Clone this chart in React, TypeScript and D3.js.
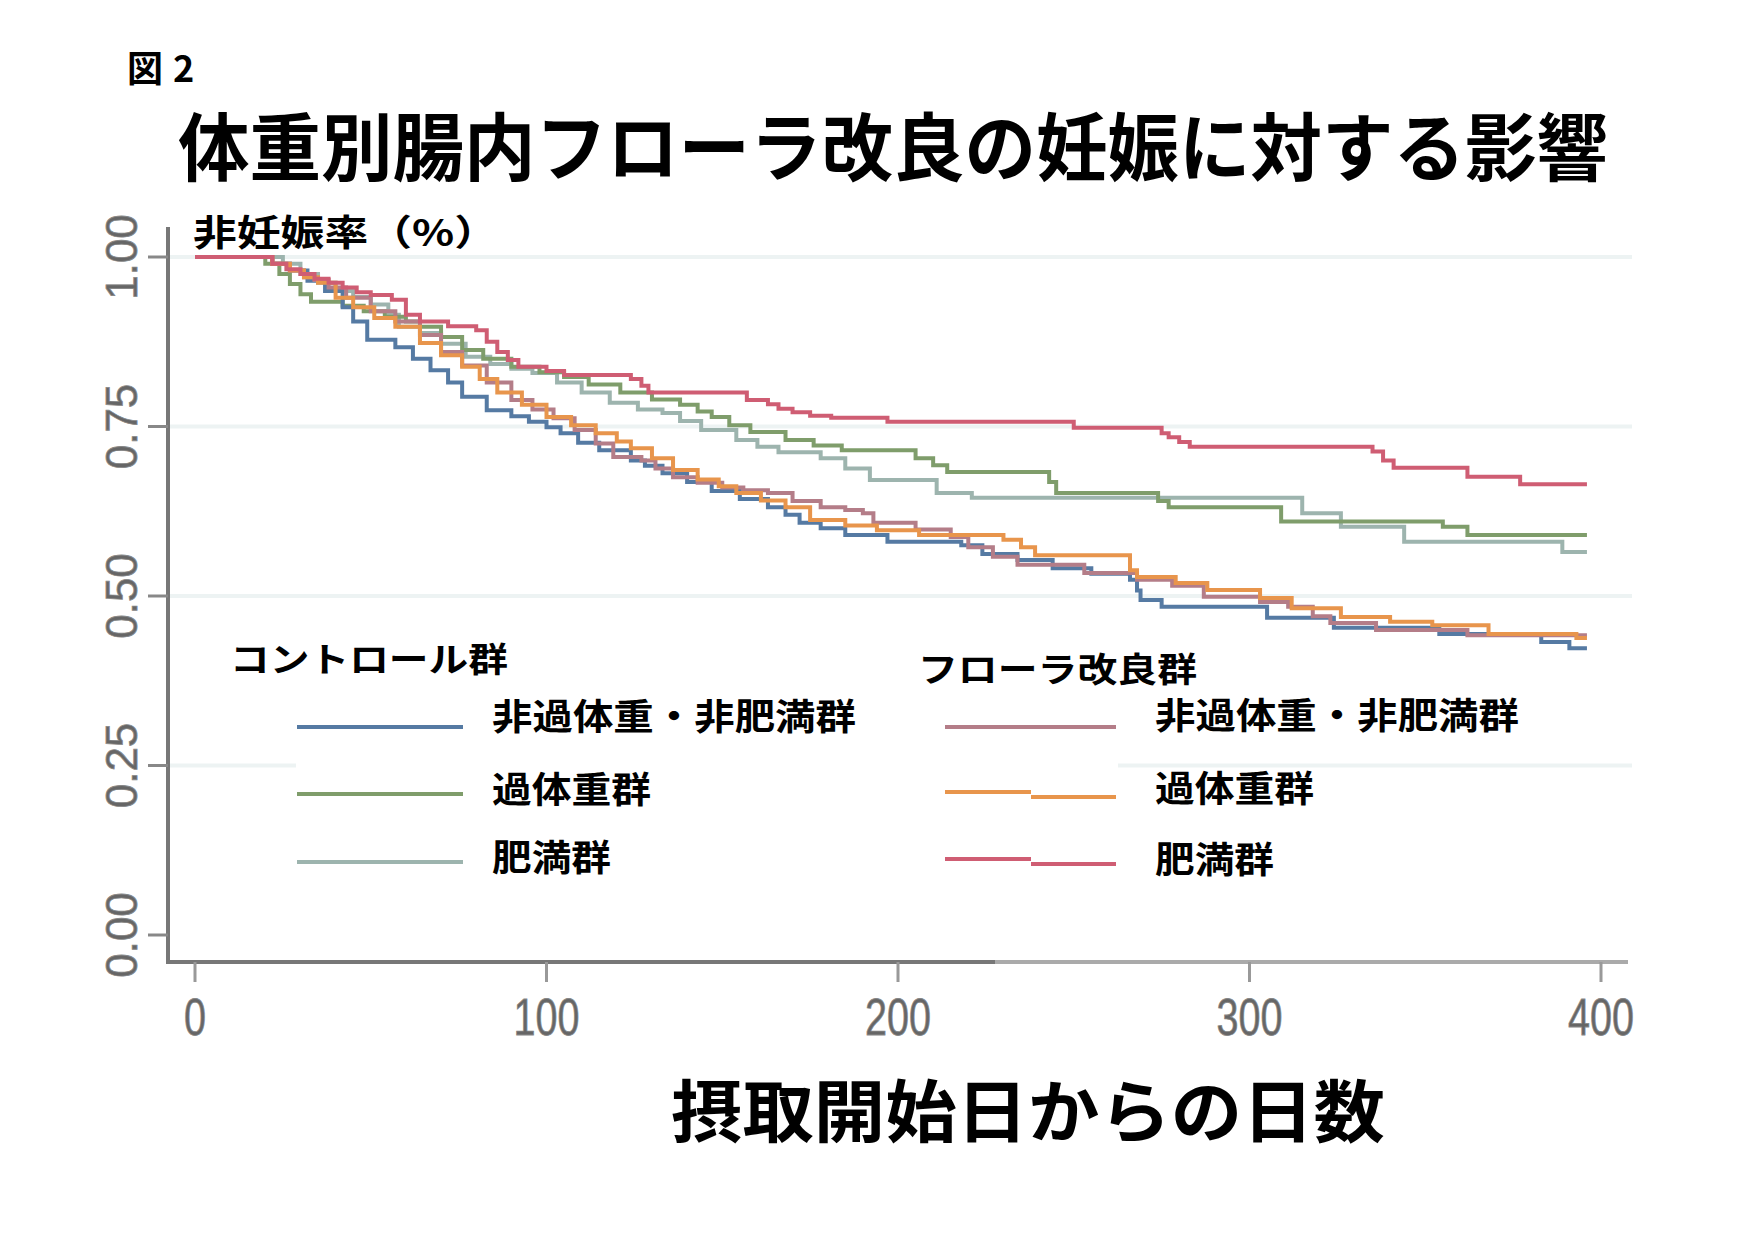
import React from "react";
import * as d3 from "d3";

// Kaplan-Meier style curves: [day, non-pregnancy rate]
const ctrlNormal = [
  [0, 1], [22, 0.99], [27, 0.98], [32, 0.965], [37, 0.95], [42, 0.926], [45, 0.905], [49, 0.878],
  [57, 0.867], [62, 0.85], [67, 0.833], [72, 0.815], [76, 0.794], [83, 0.774], [90, 0.765],
  [95, 0.757], [100, 0.749], [104, 0.74], [109, 0.726], [115, 0.715], [124, 0.7], [128, 0.692],
  [133, 0.681], [140, 0.668], [147, 0.655], [155, 0.643], [163, 0.631], [168, 0.62], [172, 0.608],
  [178, 0.6], [185, 0.59], [197, 0.58], [218, 0.575], [224, 0.562], [234, 0.553], [244, 0.541],
  [255, 0.533], [266, 0.524], [268, 0.508], [269, 0.494], [275, 0.484], [305, 0.468], [324, 0.453],
  [354, 0.444], [383, 0.432], [391, 0.423], [396, 0.423],
];
const ctrlOver = [
  [0, 1], [20, 0.99], [24, 0.975], [27, 0.96], [30, 0.945], [33, 0.934], [42, 0.928], [48, 0.92],
  [54, 0.912], [60, 0.905], [64, 0.897], [70, 0.882], [76, 0.863], [82, 0.85], [90, 0.838],
  [98, 0.83], [105, 0.823], [112, 0.812], [121, 0.8], [130, 0.79], [138, 0.782], [143, 0.772],
  [147, 0.764], [152, 0.752], [158, 0.742], [168, 0.73], [176, 0.722], [184, 0.715], [205, 0.703],
  [210, 0.693], [214, 0.683], [243, 0.668], [245, 0.652], [274, 0.64], [277, 0.631], [309, 0.61],
  [355, 0.602], [362, 0.59], [396, 0.59],
];
const ctrlObese = [
  [0, 1], [25, 0.99], [30, 0.975], [35, 0.962], [40, 0.95], [45, 0.941], [50, 0.93], [55, 0.915],
  [58, 0.897], [64, 0.888], [70, 0.872], [77, 0.853], [84, 0.842], [90, 0.835], [96, 0.829],
  [103, 0.815], [110, 0.8], [118, 0.785], [126, 0.775], [133, 0.77], [138, 0.758], [144, 0.745],
  [154, 0.73], [160, 0.72], [166, 0.712], [178, 0.703], [185, 0.688], [192, 0.671], [211, 0.652],
  [221, 0.645], [315, 0.622], [326, 0.602], [344, 0.58], [389, 0.565], [396, 0.565],
];
const floraNormal = [
  [0, 1], [22, 0.99], [27, 0.98], [31, 0.97], [34, 0.966], [38, 0.955], [43, 0.94], [50, 0.92],
  [57, 0.905], [64, 0.885], [70, 0.86], [76, 0.84], [83, 0.815], [90, 0.789], [96, 0.775],
  [102, 0.762], [108, 0.745], [114, 0.725], [119, 0.705], [127, 0.7], [131, 0.688], [136, 0.675],
  [143, 0.667], [150, 0.66], [156, 0.656], [163, 0.652], [170, 0.64], [178, 0.631], [185, 0.627],
  [190, 0.622], [193, 0.608], [205, 0.598], [215, 0.587], [220, 0.572], [227, 0.558], [234, 0.546],
  [253, 0.534], [268, 0.524], [278, 0.515], [287, 0.499], [303, 0.491], [311, 0.484], [318, 0.47],
  [323, 0.46], [336, 0.45], [362, 0.442], [396, 0.442],
];
const floraOver = [
  [0, 1], [22, 0.99], [27, 0.98], [31, 0.97], [35, 0.962], [40, 0.94], [45, 0.926], [51, 0.91],
  [57, 0.897], [64, 0.873], [70, 0.855], [76, 0.838], [81, 0.82], [86, 0.8], [93, 0.782],
  [100, 0.764], [107, 0.752], [114, 0.74], [120, 0.728], [124, 0.718], [130, 0.703], [136, 0.686],
  [143, 0.672], [149, 0.662], [154, 0.652], [161, 0.641], [168, 0.631], [175, 0.612], [185, 0.604],
  [194, 0.597], [206, 0.59], [230, 0.583], [235, 0.572], [239, 0.56], [266, 0.538], [268, 0.528],
  [279, 0.519], [288, 0.509], [303, 0.497], [312, 0.482], [326, 0.469], [340, 0.462], [352, 0.457],
  [368, 0.444], [393, 0.438], [396, 0.438],
];
const floraObese = [
  [0, 1], [22, 0.99], [26, 0.982], [30, 0.975], [34, 0.968], [38, 0.962], [42, 0.955], [46, 0.948],
  [50, 0.944], [56, 0.937], [60, 0.915], [64, 0.905], [72, 0.898], [80, 0.892], [83, 0.875],
  [86, 0.86], [89, 0.848], [92, 0.838], [100, 0.832], [105, 0.826], [124, 0.82], [127, 0.81],
  [129, 0.8], [157, 0.789], [163, 0.783], [166, 0.776], [170, 0.771], [175, 0.766], [181, 0.763],
  [197, 0.757], [250, 0.748], [275, 0.74], [277, 0.734], [280, 0.727], [283, 0.72], [335, 0.713],
  [338, 0.7], [341, 0.689], [362, 0.676], [377, 0.665], [396, 0.665],
];

const xTicks = [0, 100, 200, 300, 400];
const yTicks = [0, 0.25, 0.5, 0.75, 1];
const yGrid = [0.25, 0.5, 0.75, 1];

const controlSeries = [
  { name: "非過体重・非肥満群", data: ctrlNormal, color: "#557aa3" },
  { name: "過体重群", data: ctrlOver, color: "#7f9d6b" },
  { name: "肥満群", data: ctrlObese, color: "#9db4ae" },
];
const floraSeries = [
  { name: "非過体重・非肥満群", data: floraNormal, color: "#b47d88" },
  { name: "過体重群", data: floraOver, color: "#e8954c" },
  { name: "肥満群", data: floraObese, color: "#cf5d73" },
];

const JP = "'Noto Sans CJK JP', 'Noto Sans', sans-serif";
const NUM = "'Liberation Sans', Arial, sans-serif";

export default function App() {
  const width = 1754;
  const height = 1241;

  const x = d3.scaleLinear().domain([0, 400]).range([195, 1601]);
  const y = d3.scaleLinear().domain([0, 1]).range([935, 257]);

  const line = d3
    .line<number[]>()
    .x((d) => x(d[0]))
    .y((d) => y(d[1]))
    .curve(d3.curveStepAfter);

  const drawOrder = [controlSeries[2], controlSeries[1], controlSeries[0], floraSeries[0], floraSeries[1], floraSeries[2]];

  const ctrlLegendY = [727, 794, 862];
  const ctrlLabelY = [714, 787, 855];
  const floraLegendY = [[727, 727], [792, 797], [859, 864]];
  const floraLabelY = [713, 786, 857];
  const labelLen = (s: string) => (s.length === 9 ? 364 : s.length === 4 ? 159 : 119);

  return (
    <div style={{ position: "fixed", left: 0, top: 0, background: "#fff" }}>
      <svg width={width} height={height} style={{ display: "block" }}>
        <rect width={width} height={height} fill="#fff" />

        {/* headings */}
        <text x={127} y={66} fontFamily={JP} fontWeight="bold" fontSize={36} dominantBaseline="central" letterSpacing={10}>
          図2
        </text>
        <text
          x={178}
          y={142}
          fontFamily={JP}
          fontWeight="bold"
          fontSize={74}
          dominantBaseline="central"
          textLength={1430}
          lengthAdjust="spacingAndGlyphs"
        >
          体重別腸内フローラ改良の妊娠に対する影響
        </text>

        {/* grid */}
        {yGrid.map((v) => (
          <line key={v} x1={168} x2={1632} y1={y(v)} y2={y(v)} stroke="#edf3f3" strokeWidth={4} />
        ))}

        {/* curves */}
        <g fill="none" strokeWidth={4} strokeLinejoin="miter">
          {drawOrder.map((s, i) => (
            <path key={i} d={line(s.data as number[][]) || ""} stroke={s.color} />
          ))}
        </g>

        {/* legend backdrop */}
        <rect x={296} y={692} width={822} height={190} fill="#fff" />

        {/* axes */}
        <line x1={168} x2={168} y1={227} y2={964} stroke="#777" strokeWidth={4} />
        <line x1={166} x2={995} y1={962} y2={962} stroke="#777" strokeWidth={4} />
        <line x1={995} x2={1628} y1={962} y2={962} stroke="#aaa" strokeWidth={4} />
        {yTicks.map((v) => (
          <g key={v}>
            <line x1={148} x2={168} y1={y(v)} y2={y(v)} stroke="#888" strokeWidth={3} />
            <text
              transform={`translate(121,${y(v)}) rotate(-90)`}
              textAnchor="middle"
              dominantBaseline="central"
              fontFamily={NUM}
              fontSize={44}
              fill="#666"
              stroke="#888"
              strokeWidth={0.8}
            >
              {v.toFixed(2)}
            </text>
          </g>
        ))}
        {xTicks.map((v) => (
          <g key={v}>
            <line x1={x(v)} x2={x(v)} y1={962} y2={982} stroke="#999" strokeWidth={3} />
            <text
              x={x(v)}
              y={1017}
              textAnchor="middle"
              dominantBaseline="central"
              fontFamily={NUM}
              fontSize={52}
              fill="#666"
              stroke="#888"
              strokeWidth={0.8}
              textLength={String(v).length * 22}
              lengthAdjust="spacingAndGlyphs"
            >
              {v}
            </text>
          </g>
        ))}

        {/* axis titles */}
        <text x={193} y={230} fontFamily={JP} fontWeight="bold" fontSize={36} dominantBaseline="central" textLength={305} lengthAdjust="spacingAndGlyphs">
          非妊娠率（%）
        </text>
        <text x={671} y={1107} fontFamily={JP} fontWeight="bold" fontSize={68} dominantBaseline="central" textLength={714} lengthAdjust="spacingAndGlyphs">
          摂取開始日からの日数
        </text>

        {/* legend: control */}
        <text x={230} y={657} fontFamily={JP} fontWeight="bold" fontSize={34} dominantBaseline="central" textLength={278} lengthAdjust="spacingAndGlyphs">
          コントロール群
        </text>
        {controlSeries.map((s, i) => (
          <g key={s.name + i}>
            <line x1={297} x2={463} y1={ctrlLegendY[i]} y2={ctrlLegendY[i]} stroke={s.color} strokeWidth={4} />
            <text x={492} y={ctrlLabelY[i]} fontFamily={JP} fontWeight="bold" fontSize={36} dominantBaseline="central" textLength={labelLen(s.name)} lengthAdjust="spacingAndGlyphs">
              {s.name}
            </text>
          </g>
        ))}

        {/* legend: flora */}
        <text x={918} y={667} fontFamily={JP} fontWeight="bold" fontSize={34} dominantBaseline="central" textLength={279} lengthAdjust="spacingAndGlyphs">
          フローラ改良群
        </text>
        {floraSeries.map((s, i) => (
          <g key={s.name + i}>
            <line x1={945} x2={1031} y1={floraLegendY[i][0]} y2={floraLegendY[i][0]} stroke={s.color} strokeWidth={4} />
            <line x1={1031} x2={1116} y1={floraLegendY[i][1]} y2={floraLegendY[i][1]} stroke={s.color} strokeWidth={4} />
            <text x={1155} y={floraLabelY[i]} fontFamily={JP} fontWeight="bold" fontSize={36} dominantBaseline="central" textLength={labelLen(s.name)} lengthAdjust="spacingAndGlyphs">
              {s.name}
            </text>
          </g>
        ))}
      </svg>
    </div>
  );
}
